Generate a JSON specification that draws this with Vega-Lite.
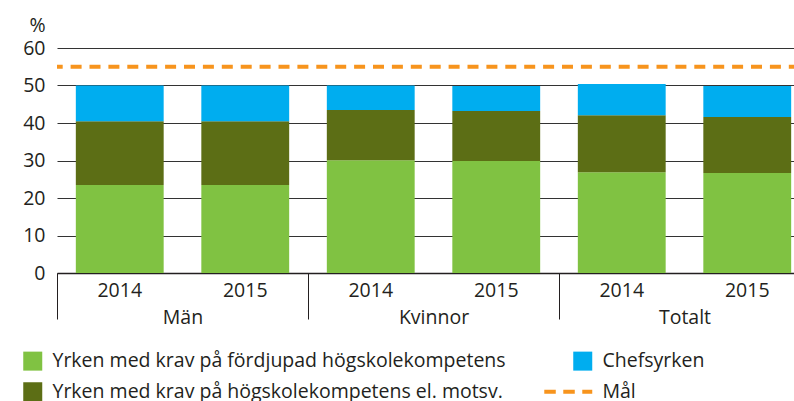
{
  "$schema": "https://vega.github.io/schema/vega-lite/v6.json",
  "autosize": "none",
  "width": 737,
  "height": 225,
  "padding": {"left": 57, "top": 48, "right": 0, "bottom": 128},
  "background": "white",
  "config": {"font": "Open Sans", "view": {"stroke": null}},
  "datasets": {
    "main": [
      {"grupp": "Män", "år": "2014", "kategori": "Yrken med krav på fördjupad högskolekompetens", "andel": 23.5, "ord": 1},
      {"grupp": "Män", "år": "2014", "kategori": "Yrken med krav på högskolekompetens el. motsv.", "andel": 17.0, "ord": 2},
      {"grupp": "Män", "år": "2014", "kategori": "Chefsyrken", "andel": 9.5, "ord": 3},
      {"grupp": "Män", "år": "2015", "kategori": "Yrken med krav på fördjupad högskolekompetens", "andel": 23.5, "ord": 1},
      {"grupp": "Män", "år": "2015", "kategori": "Yrken med krav på högskolekompetens el. motsv.", "andel": 17.0, "ord": 2},
      {"grupp": "Män", "år": "2015", "kategori": "Chefsyrken", "andel": 9.5, "ord": 3},
      {"grupp": "Kvinnor", "år": "2014", "kategori": "Yrken med krav på fördjupad högskolekompetens", "andel": 30.1, "ord": 1},
      {"grupp": "Kvinnor", "år": "2014", "kategori": "Yrken med krav på högskolekompetens el. motsv.", "andel": 13.4, "ord": 2},
      {"grupp": "Kvinnor", "år": "2014", "kategori": "Chefsyrken", "andel": 6.5, "ord": 3},
      {"grupp": "Kvinnor", "år": "2015", "kategori": "Yrken med krav på fördjupad högskolekompetens", "andel": 29.9, "ord": 1},
      {"grupp": "Kvinnor", "år": "2015", "kategori": "Yrken med krav på högskolekompetens el. motsv.", "andel": 13.3, "ord": 2},
      {"grupp": "Kvinnor", "år": "2015", "kategori": "Chefsyrken", "andel": 6.7, "ord": 3},
      {"grupp": "Totalt", "år": "2014", "kategori": "Yrken med krav på fördjupad högskolekompetens", "andel": 26.9, "ord": 1},
      {"grupp": "Totalt", "år": "2014", "kategori": "Yrken med krav på högskolekompetens el. motsv.", "andel": 15.2, "ord": 2},
      {"grupp": "Totalt", "år": "2014", "kategori": "Chefsyrken", "andel": 8.3, "ord": 3},
      {"grupp": "Totalt", "år": "2015", "kategori": "Yrken med krav på fördjupad högskolekompetens", "andel": 26.7, "ord": 1},
      {"grupp": "Totalt", "år": "2015", "kategori": "Yrken med krav på högskolekompetens el. motsv.", "andel": 14.9, "ord": 2},
      {"grupp": "Totalt", "år": "2015", "kategori": "Chefsyrken", "andel": 8.3, "ord": 3}
    ],
    "goal": [{"andel": 55}]
  },
  "resolve": {"axis": {"y": "shared"}},
  "layer": [
    {
      "data": {"name": "main"},
      "mark": {"type": "bar"},
      "encoding": {
        "x": {
          "field": "grupp", "type": "nominal", "sort": ["Män", "Kvinnor", "Totalt"],
          "scale": {"range": [0, 753], "paddingInner": 0, "paddingOuter": 0},
          "axis": {
            "title": null, "orient": "bottom", "tickBand": "extent", "ticks": true, "tickSize": 46,
            "tickColor": "#231f20", "tickWidth": 1, "domain": true, "domainColor": "#231f20", "domainWidth": 1.5,
            "labelFontSize": 19.5, "labelColor": "#231f20", "labelPadding": 4, "labelBaseline": "alphabetic",
            "labelAngle": 0, "grid": false
          }
        },
        "xOffset": {"field": "år", "type": "nominal", "scale": {"paddingInner": 0.3, "paddingOuter": 0.15}},
        "y": {
          "field": "andel", "type": "quantitative", "stack": "zero",
          "scale": {"domain": [0, 60], "nice": false},
          "axis": {
            "title": "%", "titleAngle": 0, "titleAlign": "right", "titleBaseline": "middle", "titleX": -12, "titleY": -23,
            "titleFontSize": 19.5, "titleFontWeight": "normal", "titleColor": "#231f20",
            "values": [0, 10, 20, 30, 40, 50, 60], "tickCount": 7, "labelOverlap": false, "domain": false, "ticks": false, "labelPadding": 12,
            "labelFontSize": 19.5, "labelColor": "#231f20", "grid": true, "gridColor": "#333333", "gridWidth": 1.2
          }
        },
        "color": {
          "field": "kategori", "type": "nominal",
          "scale": {
            "domain": ["Yrken med krav på fördjupad högskolekompetens", "Chefsyrken", "Yrken med krav på högskolekompetens el. motsv.", "Mål"],
            "range": ["#80c242", "#00adef", "#5c6e15", "#f7941d"]
          },
          "legend": {
            "title": null, "orient": "none", "legendX": -34, "legendY": 303, "columns": 2, "direction": "horizontal",
            "symbolType": "square", "symbolSize": 361, "symbolStrokeWidth": 0, "symbolOpacity": 1,
            "labelFontSize": 19.5, "labelColor": "#231f20", "labelOffset": 10, "labelLimit": 700,
            "rowPadding": 10, "columnPadding": 30, "padding": 0,
            "encode": {
              "symbols": {
                "update": {
                  "shape": {"signal": "datum.label === 'Mål' ? 'M-4.05,0H1' : 'square'"},
                  "strokeDash": {"signal": "datum.label === 'Mål' ? [11.5, 7.5] : [1, 0]"},
                  "fill": {"signal": "datum.label === 'Mål' ? 'transparent' : scale('color', datum.value)"},
                  "stroke": {"signal": "datum.label === 'Mål' ? '#f7941d' : 'transparent'"},
                  "strokeWidth": {"signal": "datum.label === 'Mål' ? 4 : 0"}
                }
              }
            }
          }
        },
        "order": {"field": "ord", "type": "quantitative"}
      }
    },
    {
      "data": {"name": "main"},
      "transform": [{"filter": "datum.ord == 1"}],
      "mark": {"type": "text", "baseline": "alphabetic", "dy": 24, "fontSize": 19.5, "color": "#231f20"},
      "encoding": {
        "x": {"field": "grupp", "type": "nominal", "sort": ["Män", "Kvinnor", "Totalt"]},
        "xOffset": {"field": "år", "type": "nominal"},
        "y": {
          "datum": 0, "type": "quantitative",
          "axis": {
            "title": "%", "titleAngle": 0, "titleAlign": "right", "titleBaseline": "middle", "titleX": -12, "titleY": -23,
            "titleFontSize": 19.5, "titleFontWeight": "normal", "titleColor": "#231f20",
            "values": [0, 10, 20, 30, 40, 50, 60], "tickCount": 7, "labelOverlap": false, "domain": false, "ticks": false, "labelPadding": 12,
            "labelFontSize": 19.5, "labelColor": "#231f20", "grid": true, "gridColor": "#333333", "gridWidth": 1.2
          }
        },
        "text": {"field": "år"}
      }
    },
    {
      "data": {"name": "goal"},
      "mark": {"type": "rule", "color": "#f7941d", "strokeWidth": 4, "strokeDash": [11, 7.9], "strokeDashOffset": 5.8},
      "encoding": {
        "y": {
          "field": "andel", "type": "quantitative",
          "axis": {
            "title": "%", "titleAngle": 0, "titleAlign": "right", "titleBaseline": "middle", "titleX": -12, "titleY": -23,
            "titleFontSize": 19.5, "titleFontWeight": "normal", "titleColor": "#231f20",
            "values": [0, 10, 20, 30, 40, 50, 60], "tickCount": 7, "labelOverlap": false, "domain": false, "ticks": false, "labelPadding": 12,
            "labelFontSize": 19.5, "labelColor": "#231f20", "grid": true, "gridColor": "#333333", "gridWidth": 1.2
          }
        }
      }
    }
  ]
}
